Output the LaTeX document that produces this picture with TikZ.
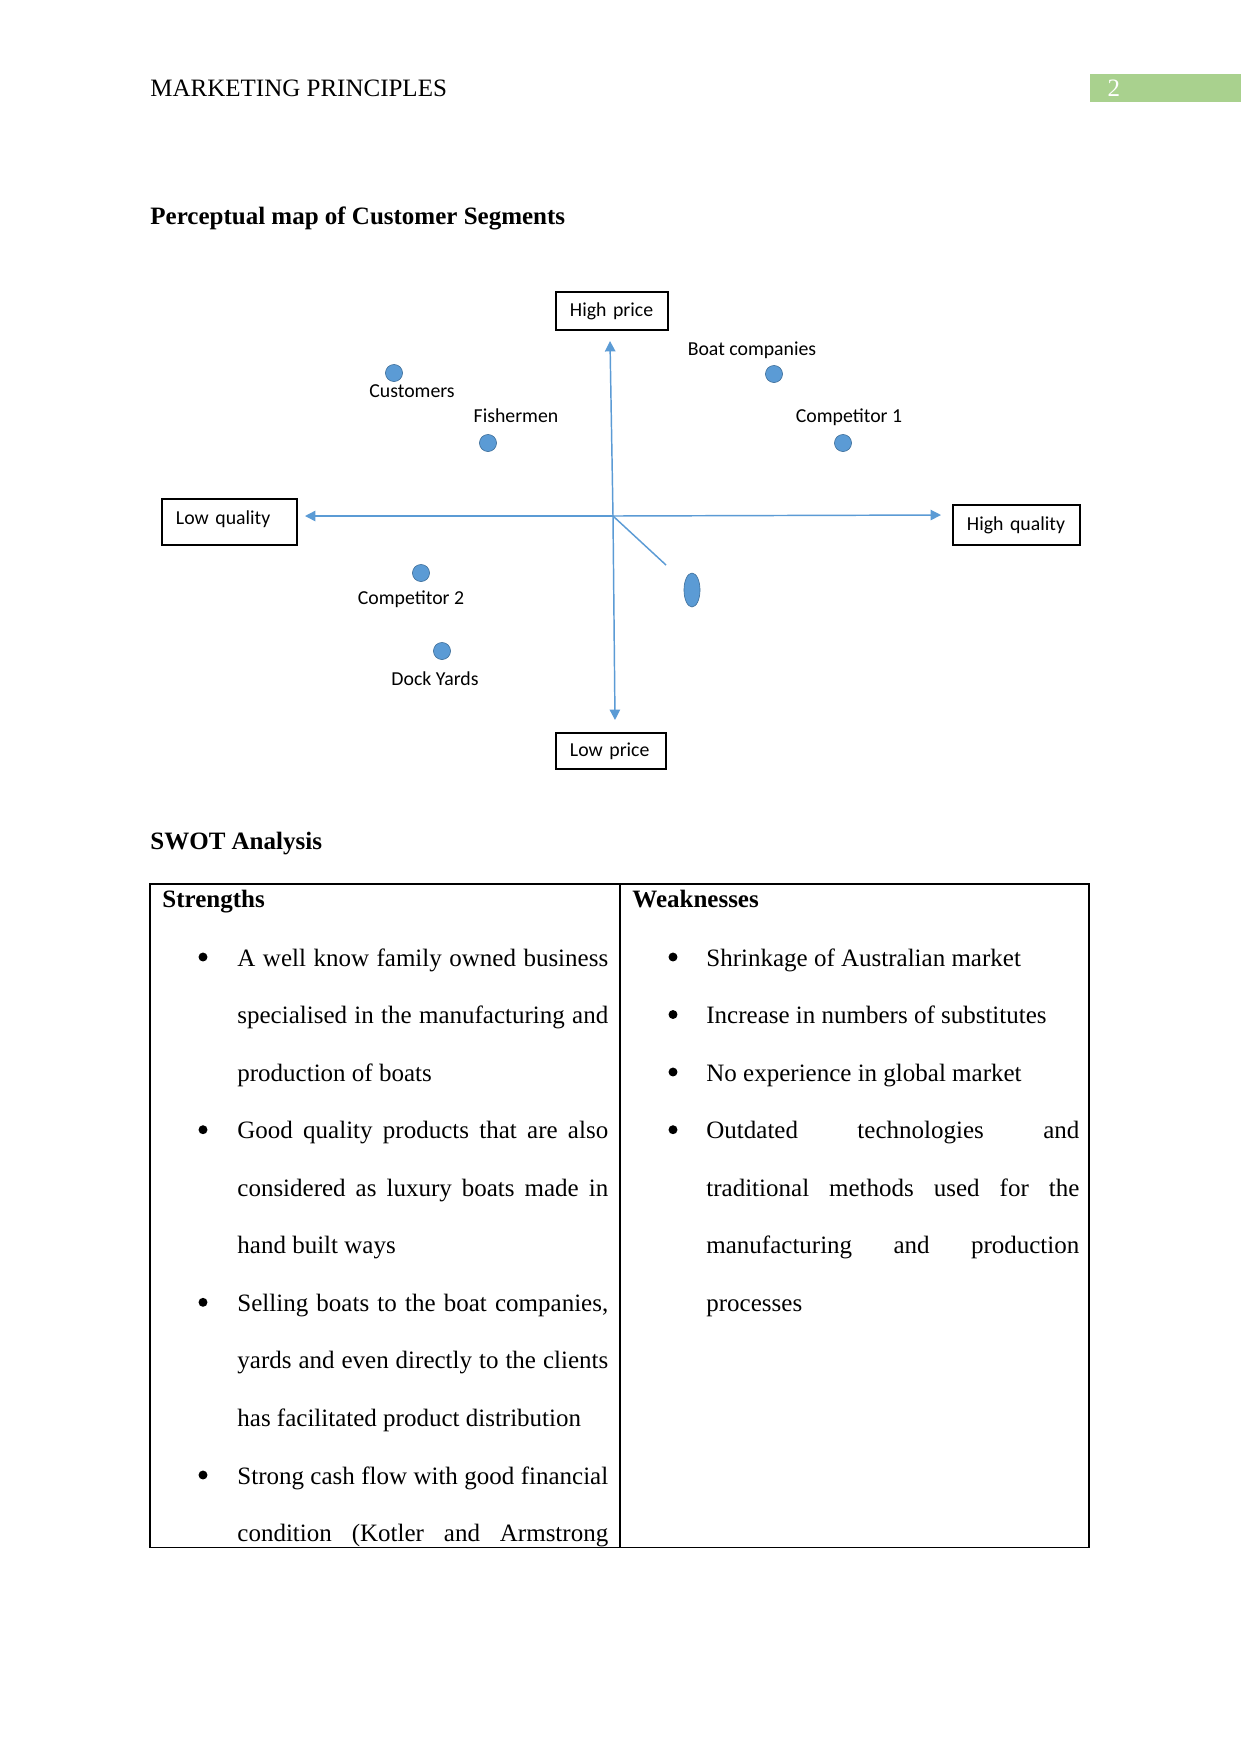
\documentclass[tikz,border=0pt]{standalone}
\usepackage{fontspec}
\setmainfont{Liberation Serif}
\newfontfamily\chartfont{Carlito}
\usetikzlibrary{arrows.meta,shapes.geometric}
\definecolor{axisblue}{HTML}{5B9BD5}
\definecolor{dotblue}{HTML}{5B9BD5}
\definecolor{dotedge}{HTML}{41719C}
\definecolor{pagegreen}{HTML}{A9D18E}
\newcommand\jline[1]{\makebox[178pt][s]{#1}}
\begin{document}
\begin{tikzpicture}[x=0.48pt,y=-0.48pt,
  bodytext/.style={font=\fontsize{12}{13.8}\selectfont, inner sep=0pt, anchor=base west},
  headtext/.style={font=\bfseries\fontsize{12}{13.8}\selectfont, inner sep=0pt, anchor=base west},
  maptext/.style={font=\chartfont\fontsize{9.5}{11}\selectfont, inner sep=0pt},
  mapbox/.style={draw=black, line width=0.7pt, font=\chartfont\fontsize{9.5}{11}\selectfont,
     align=left, inner xsep=6.7pt, inner ysep=0pt},
  dot/.style={circle, fill=dotblue, draw=dotedge, line width=0.3pt, minimum size=8.2pt, inner sep=0pt},
  bullet/.style={circle, fill=black, minimum size=4.3pt, inner sep=0pt},
  axis/.style={draw=axisblue, line width=0.7pt},
  tip/.style={-{Triangle[length=5pt,width=5pt]}}
]
\useasboundingbox (0,0) rectangle (1241,1754);
\fill[white] (0,0) rectangle (1241,1754);

% header
\node (hdr) [bodytext] at (150,96) {MARKETING PRINCIPLES};
\node (pagenum) [fill=pagegreen, anchor=north west, minimum width=72.5pt, minimum height=13pt,
   text width=56pt, align=left, inner xsep=8.2pt, inner ysep=0pt, text=white,
   font=\fontsize{12}{13.8}\selectfont] at (1090,74) {2};

% title
\node (title) [headtext] at (150,224) {Perceptual map of Customer Segments};

% map axes
\coordinate (O) at (613,516);
\coordinate (vtop) at (610,341);
\coordinate (vbot) at (615,720);
\coordinate (hleft) at (305,516);
\coordinate (hright) at (941,515);
\coordinate (diagend) at (666,565);
\draw[axis,tip] (O) -- (vtop);
\draw[axis,tip] (O) -- (vbot);
\draw[axis,tip] (O) -- (hleft);
\draw[axis,tip] (O) -- (hright);
\draw[axis] (O) -- (diagend);

% axis boxes
\node (hp) [mapbox, minimum width=53.8pt, minimum height=18.2pt, text width=40.4pt] at (612,311) {High price};
\node (lp) [mapbox, minimum width=52.8pt, minimum height=17.3pt, text width=39.4pt] at (611,751) {Low price};
\node (lq) [mapbox, minimum width=64.8pt, minimum height=22pt, text width=51.4pt] at (229.5,522) {\raisebox{4.4pt}{Low quality}};
\node (hq) [mapbox, minimum width=61pt, minimum height=19.2pt, text width=47.6pt] at (1016.5,525) {High quality};

% points
\node (custdot) [dot] at (394,373) {};
\node (custlab) [maptext] at (412,391) {Customers};
\node (fishlab) [maptext] at (516,416) {Fishermen};
\node (fishdot) [dot] at (488,443) {};
\node (boatlab) [maptext] at (752,350) {Boat companies};
\node (boatdot) [dot] at (774,374) {};
\node (c1lab) [maptext] at (849,417) {Competitor 1};
\node (c1dot) [dot] at (843,443) {};
\node (c2dot) [dot] at (421,573) {};
\node (c2lab) [maptext] at (411,599) {Competitor 2};
\node (dydot) [dot] at (442,651) {};
\node (dylab) [maptext] at (435,679) {Dock Yards};
\node (oval) [ellipse, fill=dotblue, draw=dotedge, line width=0.3pt, minimum width=7.7pt, minimum height=16.3pt, inner sep=0pt] at (692,590) {};

% SWOT
\node (swot) [headtext] at (150,849) {SWOT Analysis};
\draw[line width=0.5pt] (150,884) rectangle (1089,1547);
\draw[line width=0.5pt] (620,884) -- (620,1547);
\node (str) [headtext] at (162,907) {Strengths};
\node (wea) [headtext] at (632,907) {Weaknesses};

% left column
\node (b1) [bullet] at (203,957) {};
\node (l1) [bodytext] at (237,966) {\jline{A well know family owned business}};
\node (l2) [bodytext] at (237,1023.5) {\jline{specialised in the manufacturing and}};
\node (l3) [bodytext] at (237,1081) {production of boats};
\node (b2) [bullet] at (203,1129.7) {};
\node (l4) [bodytext] at (237,1138.7) {\jline{Good quality products that are also}};
\node (l5) [bodytext] at (237,1196.2) {\jline{considered as luxury boats made in}};
\node (l6) [bodytext] at (237,1253.8) {hand built ways};
\node (b3) [bullet] at (203,1302.3) {};
\node (l7) [bodytext] at (237,1311.3) {\jline{Selling boats to the boat companies,}};
\node (l8) [bodytext] at (237,1368.9) {\jline{yards and even directly to the clients}};
\node (l9) [bodytext] at (237,1426.4) {has facilitated product distribution};
\node (b4) [bullet] at (203,1475) {};
\node (l10) [bodytext] at (237,1484) {\jline{Strong cash flow with good financial}};
\node (l11) [bodytext] at (237,1541.5) {\jline{condition (Kotler and Armstrong}};

% right column
\node (rb1) [bullet] at (673,957) {};
\node (r1) [bodytext] at (706,966) {Shrinkage of Australian market};
\node (rb2) [bullet] at (673,1014.5) {};
\node (r2) [bodytext] at (706,1023.5) {Increase in numbers of substitutes};
\node (rb3) [bullet] at (673,1072) {};
\node (r3) [bodytext] at (706,1081) {No experience in global market};
\node (rb4) [bullet] at (673,1129.7) {};
\node (r4) [bodytext] at (706,1138.7) {\makebox[179pt][s]{Outdated technologies and}};
\node (r5) [bodytext] at (706,1196.2) {\makebox[179pt][s]{traditional methods used for the}};
\node (r6) [bodytext] at (706,1253.8) {\makebox[179pt][s]{manufacturing and production}};
\node (r7) [bodytext] at (706,1311.3) {processes};
\end{tikzpicture}
\end{document}
